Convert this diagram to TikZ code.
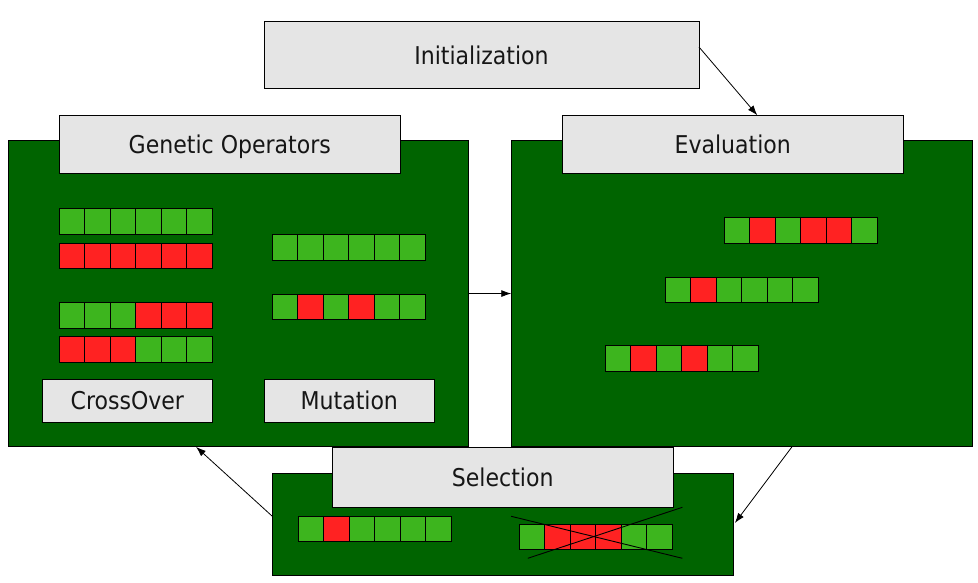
\documentclass[tikz,border=0pt]{standalone}
\usepackage{fontspec}
\setmainfont{DejaVu Sans Condensed}
\usetikzlibrary{arrows.meta,calc}
\definecolor{panelgreen}{RGB}{0,100,0}
\definecolor{cellg}{RGB}{61,181,30}
\definecolor{cellr}{RGB}{255,34,34}
\definecolor{labelgray}{RGB}{229,229,229}
\definecolor{txt}{RGB}{22,22,22}
\tikzset{
  panel/.style={draw=black, line width=1pt, fill=panelgreen, inner sep=0pt, outer sep=0pt, anchor=north west},
  labelbox/.style={draw=black, line width=1pt, fill=labelgray, inner sep=0pt, outer sep=0pt, anchor=north west,
    text=txt, font=\fontsize{24.5}{28}\selectfont, text height=17.9pt, text depth=0pt},
  cellbox/.style={draw=black, line width=1pt},
  flow/.style={draw=black, line width=0.8pt, -{Latex[length=10pt,width=7pt]}},
  crossline/.style={draw=black, line width=0.9pt}
}
\newcommand\chromrow[3]{%
  \foreach \c [count=\i from 0] in {#3} {
    \filldraw[cellbox, fill=cell\c] ({#1+\i*25.5},#2) rectangle ++(25.5,25.5);
  }}
\begin{document}
\begin{tikzpicture}[x=1pt,y=-1pt]
\useasboundingbox (0,0) rectangle (978,583);
% panels
\node[panel, minimum width=460, minimum height=306.5] (gop) at (8,140.3) {};
\node[panel, minimum width=461, minimum height=306.5] (evp) at (511.3,140.3) {};
\node[panel, minimum width=461.4, minimum height=102] (selp) at (272,473.3) {};
% label boxes
\node[labelbox, minimum width=435, minimum height=67] (init) at (264,22) {Initialization};
\node[labelbox, minimum width=341, minimum height=58.7] (goplab) at (59.3,115.3) {Genetic Operators};
\node[labelbox, minimum width=341, minimum height=58.7] (evlab) at (562.3,115.3) {Evaluation};
\node[labelbox, minimum width=170, minimum height=43] (colab) at (42.3,379.3) {CrossOver};
\node[labelbox, minimum width=170, minimum height=43] (mulab) at (264.3,379.3) {Mutation};
\node[labelbox, minimum width=341, minimum height=59.7] (sellab) at (332.2,447.3) {Selection};
% chromosomes: crossover
\chromrow{59.3}{208.5}{g,g,g,g,g,g}
\chromrow{59.3}{243.3}{r,r,r,r,r,r}
\chromrow{59.3}{302.5}{g,g,g,r,r,r}
\chromrow{59.3}{336.5}{r,r,r,g,g,g}
% mutation
\chromrow{272.3}{234.5}{g,g,g,g,g,g}
\chromrow{272.3}{294.2}{g,r,g,r,g,g}
% evaluation
\chromrow{724.3}{217.5}{g,r,g,r,r,g}
\chromrow{665.3}{277.2}{g,r,g,g,g,g}
\chromrow{605.3}{345.5}{g,r,g,r,g,g}
% selection
\chromrow{298.2}{516}{g,r,g,g,g,g}
\chromrow{519.1}{524.3}{g,r,r,r,g,g}
\draw[crossline] (511.2,516.3) -- (682.4,558.3);
\draw[crossline] (527.8,558.3) -- (682.4,507.3);
% connectors
\draw[flow] ($(init.north east)+(0,25)$) -- ($(evlab.north west)+(195,0)$);
\draw[flow] (gop.east) -- (evp.west);
\draw[flow] ($(evp.south west)+(280.7,0)$) -- ($(selp.north east)+(1.5,49.7)$);
\draw[flow] ($(selp.north west)+(0,42.7)$) -- ($(gop.south west)+(188,0)$);
\end{tikzpicture}
\end{document}
